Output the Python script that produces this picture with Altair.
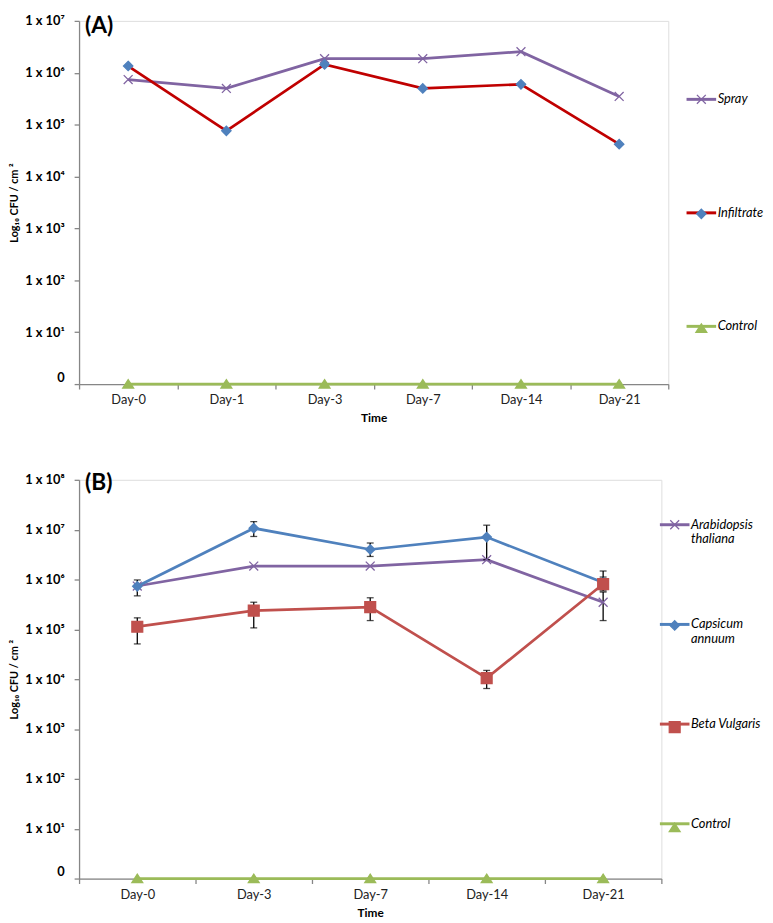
import altair as alt
import pandas as pd

FONT = "Lato"

# ---------------- Panel A data ----------------
days_a = ["Day-0", "Day-1", "Day-3", "Day-7", "Day-14", "Day-21"]
names_a = ["Spray", "Infiltrate", "Control"]
spray_a = [7.4e5, 5.0e5, 1.87e6, 1.87e6, 2.55e6, 3.5e5]
infiltrate_a = [1.35e6, 7.6e4, 1.45e6, 5.0e5, 6.0e5, 4.2e4]
control_a = [1, 1, 1, 1, 1, 1]  # sits on the "0" baseline of the log axis

# ---------------- Panel B data ----------------
days_b = ["Day-0", "Day-3", "Day-7", "Day-14", "Day-21"]
names_b = ["Arabidopsis thaliana", "Capsicum annuum", "Beta Vulgaris", "Control"]
arabidopsis_b = [7.4e5, 1.86e6, 1.86e6, 2.5e6, 3.5e5]
arabidopsis_lo = [None, None, None, None, 1.5e5]
arabidopsis_hi = [None, None, None, None, 5.6e5]
capsicum_b = [7.3e5, 1.07e7, 4.0e6, 7.1e6, 8.7e5]
capsicum_lo = [4.7e5, 7.3e6, 2.9e6, 2.5e6, 6.3e5]
capsicum_hi = [9.8e5, 1.45e7, 5.4e6, 1.23e7, 1.12e6]
beta_b = [1.13e5, 2.37e5, 2.8e5, 1.05e4, 8.1e5]
beta_lo = [5.1e4, 1.07e5, 1.5e5, 6.5e3, 5.9e5]
beta_hi = [1.7e5, 3.5e5, 4.3e5, 1.5e4, 1.48e6]
control_b = [1, 1, 1, 1, 1]

# ---------------- styles ----------------
PURPLE, BLUE, GREEN = "#8064A2", "#4F81BD", "#9BBB59"
line_colors_a = [PURPLE, "#C00000", GREEN]
marker_colors_a = [PURPLE, BLUE, GREEN]
line_colors_b = [PURPLE, BLUE, "#C0504D", GREEN]
marker_colors_b = [PURPLE, BLUE, "#C0504D", GREEN]
P_X = "M-0.9,-0.9L0.9,0.9M-0.9,0.9L0.9,-0.9"
P_DIAMOND = "M0,-0.95L0.95,0L0,0.95L-0.95,0Z"
P_TRI = "M0,-0.9L1.1,0.8L-1.1,0.8Z"
P_SQUARE = "M-1.1,-1.1H1.1V1.1H-1.1Z"
paths_a = [P_X, P_DIAMOND, P_TRI]
paths_b = [P_X, P_DIAMOND, P_SQUARE, P_TRI]
MK = "\u200b"  # marker keys differ from line keys so the two legends stay separate


def long_table(days, series):
    rows = []
    for name, vals, lo, hi in series:
        for d, v, l, h in zip(days, vals, lo, hi):
            rows.append({"day": d, "series": name, "marker": name + MK,
                         "value": v, "lo": l, "hi": h})
    return pd.DataFrame(rows)


none_a = [None] * len(days_a)
df_a = long_table(days_a, [
    ("Spray", spray_a, none_a, none_a),
    ("Infiltrate", infiltrate_a, none_a, none_a),
    ("Control", control_a, none_a, none_a),
])
none_b = [None] * len(days_b)
df_b = long_table(days_b, [
    ("Arabidopsis thaliana", arabidopsis_b, arabidopsis_lo, arabidopsis_hi),
    ("Capsicum annuum", capsicum_b, capsicum_lo, capsicum_hi),
    ("Beta Vulgaris", beta_b, beta_lo, beta_hi),
    ("Control", control_b, none_b, none_b),
])

SUP = "⁰¹²³⁴⁵⁶⁷⁸⁹"
Y_LABEL_EXPR = ("datum.value <= 1 ? '0' : '1 x 10' + substring('" + SUP +
                "', round(log(datum.value)/LN10), round(log(datum.value)/LN10) + 1)")

LEGEND_LABEL_EXPR = ("indexof(datum.label, 'Arabidopsis') == 0 ? ['Arabidopsis', 'thaliana'] : "
                     "indexof(datum.label, 'Capsicum') == 0 ? ['Capsicum', 'annuum'] : "
                     "[datum.label, '']")
BLANK_LABEL_EXPR = "[' ', ' ']"


def panel(df, days, names, line_colors, marker_colors, paths, top_exp,
          width, height, leg_x, leg_y, row_pad, tag, tag_y, errorbars):
    x = alt.X("day:N", sort=days,
              scale=alt.Scale(type="band", domain=days, paddingInner=0, paddingOuter=0),
              axis=alt.Axis(title="Time", tickBand="extent", labelAngle=0,
                            labelFont=FONT, labelFontSize=13, labelColor="#222222",
                            labelPadding=5, titleFont=FONT, titleFontSize=12,
                            titleFontWeight="bold", titlePadding=6,
                            domainColor="#868686", domainWidth=1.3,
                            tickColor="#868686", tickWidth=1.3, tickSize=5))

    def ych(field):
        return alt.Y(field + ":Q",
                     scale=alt.Scale(type="log", domain=[1, 10 ** top_exp], nice=False),
                     axis=alt.Axis(values=[10 ** i for i in range(top_exp + 1)],
                                   labelExpr=Y_LABEL_EXPR, title="Log₁₀ CFU / cm ²",
                                   labelFont=FONT, labelFontSize=13, labelFontWeight="bold",
                                   labelColor="black", labelPadding=10,
                                   labelBaseline={"condition": {"test": "datum.value <= 1",
                                                                "value": "bottom"},
                                                  "value": "middle"},
                                   titleFont=FONT, titleFontSize=11, titleFontWeight="bold",
                                   titleColor="black", titlePadding=5, grid=False,
                                   domainColor="#868686", domainWidth=1.3,
                                   tickColor="#868686", tickWidth=1.3, tickSize=5))

    leg_common = dict(orient="none", legendX=leg_x, legendY=leg_y, title=None,
                      direction="vertical", rowPadding=row_pad, symbolSize=100,
                      labelFont=FONT, labelFontSize=13, labelFontStyle="italic",
                      labelOffset=10, symbolOffset=8, padding=0, labelLimit=300)
    line_legend = alt.Legend(symbolType="M-3,0H3", symbolStrokeWidth=3,
                             labelColor="black", labelExpr=LEGEND_LABEL_EXPR,
                             **leg_common)
    marker_legend = alt.Legend(symbolStrokeWidth=1.3, labelColor="transparent",
                               labelExpr=BLANK_LABEL_EXPR, **leg_common)
    mnames = [n + MK for n in names]

    lines = alt.Chart(df).mark_line(strokeWidth=2.75).encode(
        x=x, y=ych("value"),
        color=alt.Color("series:N", scale=alt.Scale(domain=names, range=line_colors),
                        legend=line_legend),
    )
    points = alt.Chart(df).mark_point(size=100, opacity=1, fillOpacity=1,
                                      strokeWidth=1.3).encode(
        x=x, y=ych("value"),
        shape=alt.Shape("marker:N", scale=alt.Scale(domain=mnames, range=paths),
                        legend=marker_legend),
        fill=alt.Fill("marker:N", scale=alt.Scale(domain=mnames, range=marker_colors),
                      legend=marker_legend),
        stroke=alt.Stroke("marker:N", scale=alt.Scale(domain=mnames, range=marker_colors),
                          legend=marker_legend),
    )
    layers = [lines]
    if errorbars:
        eb = alt.Chart(df).transform_filter("isValid(datum.lo)")
        layers.append(eb.mark_rule(color="black", strokeWidth=1.3).encode(
            x=x, y=ych("lo"), y2=alt.Y2("hi:Q")))
        layers.append(eb.mark_tick(color="black", thickness=1.3, size=7,
                                   orient="horizontal").encode(x=x, y=ych("lo")))
        layers.append(eb.mark_tick(color="black", thickness=1.3, size=7,
                                   orient="horizontal").encode(x=x, y=ych("hi")))
    layers.append(points)
    tag_layer = alt.Chart(pd.DataFrame({"t": [tag]})).mark_text(
        align="left", baseline="middle", font=FONT, fontSize=23, fontWeight="bold",
        color="black").encode(text="t:N", x=alt.value(6), y=alt.value(tag_y))
    layers.append(tag_layer)
    return alt.layer(*layers).properties(width=width, height=height)


chart_a = panel(df_a, days_a, names_a, line_colors_a, marker_colors_a, paths_a, 7,
                597, 368, 616, 73, 86, "(A)", 5, False)
chart_b = panel(df_b, days_b, names_b, line_colors_b, marker_colors_b, paths_b, 8,
                590, 404, 589, 39, 72, "(B)", 3, True)

chart = alt.vconcat(chart_a, chart_b, spacing=47).properties(
    padding={"left": 0, "top": 0, "right": 0, "bottom": 0}
).resolve_scale(color="independent", shape="independent", fill="independent",
                stroke="independent", x="independent", y="independent"
).configure_view(stroke=None).configure(background="white")

chart.save("out.html", embed_options={"renderer": "svg", "actions": False})
